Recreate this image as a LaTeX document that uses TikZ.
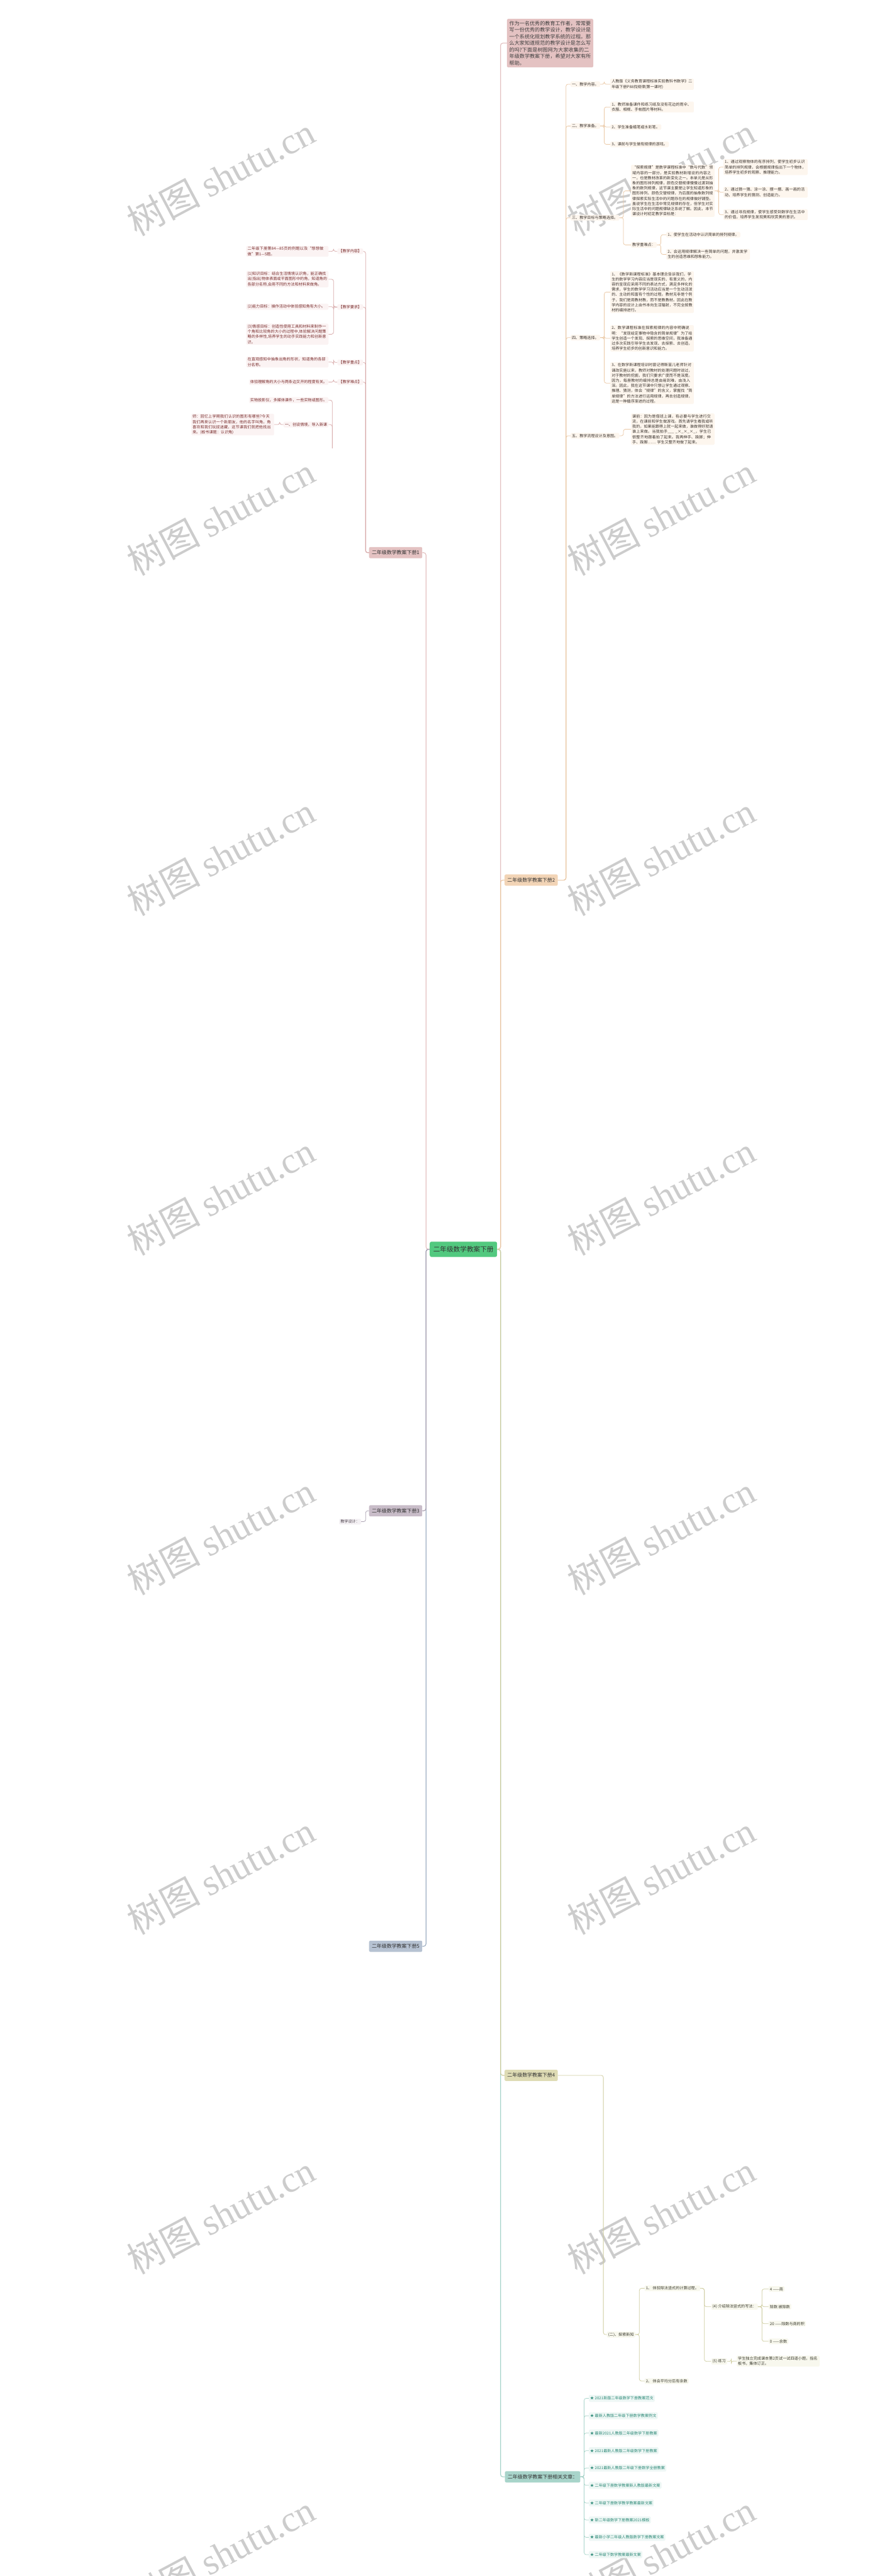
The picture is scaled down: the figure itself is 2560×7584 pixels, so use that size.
\documentclass[tikz,border=0pt]{standalone}
\usepackage{fontspec}
\setmainfont{Noto Sans CJK SC}
\newfontfamily\wmserif{Liberation Serif}
\XeTeXlinebreaklocale "zh"
\XeTeXlinebreakskip = 0pt plus 1pt
\definecolor{rootg}{HTML}{52C97F}
\definecolor{bA}{HTML}{E4C2C2}\definecolor{lA}{HTML}{D8AAAA}\definecolor{fA}{HTML}{FBF3F3}\definecolor{tA}{HTML}{7A2E2E}
\definecolor{bB}{HTML}{F2D4B6}\definecolor{lB}{HTML}{EBC9A6}\definecolor{fB}{HTML}{FDF6EE}\definecolor{tB}{HTML}{3C3530}
\definecolor{bC}{HTML}{C8BCC8}\definecolor{lC}{HTML}{ABA2B2}\definecolor{fC}{HTML}{F4F1F4}\definecolor{tC}{HTML}{4A404A}
\definecolor{bD}{HTML}{DEDBB4}\definecolor{lD}{HTML}{CFCDA0}\definecolor{fD}{HTML}{F8F8EE}\definecolor{tD}{HTML}{3C3C30}
\definecolor{bE}{HTML}{B6C2D2}\definecolor{lE}{HTML}{A0B0C4}
\definecolor{bF}{HTML}{A8D4CA}\definecolor{lF}{HTML}{A8D4CA}\definecolor{fF}{HTML}{EEF7F5}\definecolor{tF}{HTML}{2E8A78}
\tikzset{
  root/.style={fill=rootg, rounded corners=5pt, minimum width=198pt, minimum height=45pt, font=\fontsize{19.7}{24}\selectfont, text=black!80},
  brn/.style={rounded corners=4pt, inner xsep=8pt, minimum height=33pt, font=\fontsize{14.7}{18}\selectfont, text=black!80},
  lf/.style={rounded corners=3pt, inner xsep=4pt, inner ysep=3pt, align=left, font=\fontsize{11.3}{15.2}\selectfont},
  la/.style={lf, fill=fA, text=tA},
  lb/.style={lf, fill=fB, text=tB},
  lc/.style={lf, fill=fC, text=tC},
  ld/.style={lf, fill=fD, text=tD},
  lfx/.style={lf, fill=fF, text=tF},
  tw/.style={text width=#1pt},
  cn/.style={draw=#1, line width=1.4pt, rounded corners=6pt},
  tk/.style={draw=#1, line width=2.2pt, rounded corners=7pt},
  wm/.style={text=black!20, rotate=28, font=\fontsize{108}{110}\selectfont},
}
\begin{document}
\begin{tikzpicture}[x=1pt,y=-1pt]
\useasboundingbox (0,0) rectangle (2560,7584);
\fill[white] (0,0) rectangle (2560,7584);
% watermarks
\foreach \wy in {520,1520,2520,3520,4520,5520,6520,7520}{
  \node[wm] at (650,\wy) {树图 {\wmserif shutu.cn}};
  \node[wm] at (1946,\wy) {树图 {\wmserif shutu.cn}};
}

% root and main branches
\node[root] (root) at (1364,3678) {二年级数学教案下册};
\node[lf, anchor=west, fill=bA, text=black!75, tw=240, inner xsep=7pt, inner ysep=6pt, font=\fontsize{15}{19.5}\selectfont] (intro) at (1492,127) {作为一名优秀的教育工作者，常常要写一份优秀的教学设计，教学设计是一个系统化规划教学系统的过程。那么大家知道规范的教学设计是怎么写的吗?下面是树图网为大家收集的二年级数学教案下册，希望对大家有所帮助。};
\node[brn, fill=bA, anchor=east] (b1) at (1243,1627) {二年级数学教案下册1};
\node[brn, fill=bB, anchor=west] (b2) at (1485,2591) {二年级数学教案下册2};
\node[brn, fill=bC, anchor=east] (b3) at (1243,4448) {二年级数学教案下册3};
\node[brn, fill=bD, anchor=west] (b4) at (1485,6110) {二年级数学教案下册4};
\node[brn, fill=bE, anchor=east] (b5) at (1243,5730) {二年级数学教案下册5};
\node[brn, fill=bF, anchor=west] (b6) at (1486,7292) {二年级数学教案下册相关文章：};

\draw[tk=bA] (root.west) -- ++(-11,0) |- (b1.east);
\draw[tk=lE] (root.west) -- ++(-11,0) |- (b5.east);
\draw[tk=lC] (root.west) -- ++(-11,0) |- (b3.east);
\draw[tk=bA] (root.east) -- ++(10,0) |- (intro.west);
\draw[tk=lB] (root.east) -- ++(10,0) |- (b2.west);
\draw[tk=lF] (root.east) -- ++(10,0) |- (b6.west);
\draw[tk=lD] (root.east) -- ++(10,0) |- (b4.west);

% ---------------- branch 1 (left)
\node[la, anchor=east] (a1) at (1069,740) {【教学内容】};
\node[la, anchor=east] (a2) at (1069,904) {【教学要求】};
\node[la, anchor=east] (a3) at (1069,1067) {【教学重点】};
\node[la, anchor=east] (a4) at (1069,1125) {【教学难点】};
\node[la, anchor=east, tw=234] (a11) at (967,740) {二年级下册第84—85页的例题以及“想想做做”第1—5题。};
\node[la, anchor=east, tw=234] (a21) at (967,822) {(1)知识目标：结合生活情境认识角，能正确找出(指出)物体表面或平面图形中的角，知道角的各部分名称,会用不同的方法和材料来做角。};
\node[la, anchor=east, tw=234] (a22) at (967,903) {(2)能力目标：操作活动中体验感知角有大小。};
\node[la, anchor=east, tw=234] (a23) at (967,984) {(3)情感目标：创造性使用工具和材料来制作一个角和比较角的大小的过程中,体验解决问题策略的多样性,培养学生的动手实践能力和创新意识。};
\node[la, anchor=east, tw=234] (a31) at (967,1066) {在直观感知中抽象出角的形状，知道角的各部分名称。};
\node[la, anchor=east] (a41) at (967,1125) {体验理解角的大小与两条边叉开的程度有关。};
\foreach \c in {a1,a2,a3,a4} \draw[cn=lA] (b1.west) -- ++(-10,0) |- (\c.east);
\draw[cn=lA] (a1.west) -- ++(-11,0) |- (a11.east);
\foreach \c in {a21,a22,a23} \draw[cn=lA] (a2.west) -- ++(-11,0) |- (\c.east);
\draw[cn=lA] (a3.west) -- ++(-11,0) |- (a31.east);
\draw[cn=lA] (a4.west) -- ++(-11,0) |- (a41.east);
\node[la, anchor=east] (a51) at (967,1178) {实物投影仪，多媒体课件，一些实物或图形。};
\node[la, anchor=east] (a52) at (967,1250) {一、创设情境，导入新课};
\node[la, anchor=east, tw=236] (a521) at (807,1250) {师：回忆上学期我们认识的图形有哪些?今天我们再来认识一个新朋友，他的名字叫角，角喜欢和我们玩捉迷藏，这节课我们就把他找出来。(板书课题：认识角)};
\coordinate (a5j) at (978,1320);
\foreach \c in {a51,a52} \draw[cn=lA] (a5j) |- (\c.east);
\draw[cn=lA] (a52.west) -- ++(-11,0) |- (a521.east);

% ---------------- branch 2 (right)
\node[lb, anchor=west] (e1) at (1679,248) {一、教学内容。};
\node[lb, anchor=west] (e2) at (1679,371) {二、教学准备。};
\node[lb, anchor=west] (e3) at (1679,641) {三、教学目标与策略选择。};
\node[lb, anchor=west] (e4) at (1679,994) {四、策略选择。};
\node[lb, anchor=west] (e5) at (1679,1283) {五、教学流程设计及意图。};
\foreach \c in {e1,e2,e3,e4,e5} \draw[cn=lB] (b2.east) -- ++(24,0) |- (\c.west);
\node[lb, anchor=west, tw=238] (e11) at (1796,248) {人教版《义务教育课程标准实验教科书数学》二年级下册P88找规律(第一课时)};
\node[lb, anchor=west, tw=238] (e21) at (1796,315) {1、教师准备课件和练习纸及没有花边的雨伞、衣服、相框、手帕图片等材料。};
\node[lb, anchor=west] (e22) at (1796,374) {2、学生准备蜡笔或水彩笔。};
\node[lb, anchor=west] (e23) at (1796,425) {3、课前与学生做有规律的游戏。};
\draw[cn=lB] (e1.east) -- ++(12,0) |- (e11.west);
\foreach \c in {e21,e22,e23} \draw[cn=lB] (e2.east) -- ++(12,0) |- (\c.west);
\node[lb, anchor=west, tw=238] (e31) at (1857,562) {“探索规律”是数学课程标准中“数与代数”领域内容的一部分，是实验教材新增设的内容之一，也是教材改革的新变化之一。本单元是从形象的图形排列规律，颜色交替规律慢慢过渡到抽象的数列规律，这节课主要是让学生知道形象的图形排列、颜色交替规律，为后面的抽象数列规律探索实际生活中的问题存在的规律做好铺垫。虽说学生在生活中常见规律的存在，但学生对实际生活中的问题规律缺乏系统了解。因此，本节课设计时初定教学目标是：};
\node[lb, anchor=west] (e32) at (1857,721) {教学重难点：};
\foreach \c in {e31,e32} \draw[cn=lB] (e3.east) -- ++(12,0) |- (\c.west);
\node[lb, anchor=west, tw=240] (e311) at (2129,492) {1、通过观察物体的有序排列，使学生初步认识简单的排列规律，会根据规律指出下一个物体，培养学生初步的观察、推理能力。};
\node[lb, anchor=west, tw=240] (e312) at (2129,566) {2、通过猜一猜、涂一涂、摆一摆、画一画的活动，培养学生的猜测、创造能力。};
\node[lb, anchor=west, tw=240] (e313) at (2129,632) {3、通过寻找规律，使学生感受到数学在生活中的价值，培养学生发现美和欣赏美的意识。};
\foreach \c in {e311,e312,e313} \draw[cn=lB] (e31.east) -- ++(12,0) |- (\c.west);
\node[lb, anchor=west] (e321) at (1961,691) {1、使学生在活动中认识简单的排列规律。};
\node[lb, anchor=west, tw=238] (e322) at (1961,749) {2、会运用规律解决一些简单的问题，并激发学生的创造思维和想象能力。};
\foreach \c in {e321,e322} \draw[cn=lB] (e32.east) -- ++(12,0) |- (\c.west);
\node[lb, anchor=west, tw=238] (e41) at (1796,860) {1、《数学新课程标准》基本理念告诉我们，学生的数学学习内容应当是现实的、有意义的，内容的呈现应采用不同的表达方式，满足多样化的需求，学生的数学学习活动应当是一个生动活泼的、主动的和富有个性的过程。教材无非是个例子，我们是用教材教，而不是教教材。因此在教学内容的设计上由书本向生活辐射，不完全按教材的编排进行。};
\node[lb, anchor=west, tw=238] (e42) at (1796,996) {2、数学课程标准在探索规律的内容中明确说明：“发现给定事物中隐含的简单规律”为了给学生创造一个发现、探索的思维空间，我准备通过多次实践引导学生去发现、去探索、去创造，培养学生初步的创新意识和能力。};
\node[lb, anchor=west, tw=238] (e43) at (1796,1128) {3、在数学新课程培训时曾记得斯苗儿老师针对课改实施以来，教师对教材的处理问题时说过，对于教材的挖掘，我们只要求广度而不是深度。因为，每册教材的编排总是由易到难，由浅入深。因此，我在这节课中只想让学生通过观察、推理、猜测，体会“规律”的含义，掌握找“简单规律”的方法进行运用规律，再去创造规律，这是一种循序渐进的过程。};
\foreach \c in {e41,e42,e43} \draw[cn=lB] (e4.east) -- ++(12,0) |- (\c.west);
\node[lb, anchor=north west, tw=238] (e51) at (1857,1217) {课前：因为是借班上课，有必要与学生进行交流，在课前和学生做游戏。首先请学生看我或听我的，如果能跟得上就一起来做，谁做得好就请谁上来做。当我拍手\_\_\_ \_×\_×\_×\_，学生已很整齐地跟着拍了起来。我再伸手、跺脚；伸手、跺脚…… 学生又整齐地做了起来。};
\draw[cn=lB] (e5.east) -- ++(12,0) |- (e51.west);

% ---------------- branch 3 (left, partial)
\node[lc, anchor=east] (c1) at (1063,4480) {教学设计：};
\draw[cn=lC] (b3.west) -- ++(-10,0) |- (c1.east);

% ---------------- branch 4 (right, partial)
\node[ld, anchor=west] (d2) at (1786,6873) {(二)、探索新知};
\node[ld, anchor=west] (d21) at (1897,6737) {1、 体验除法竖式的计算过程。};
\node[ld, anchor=west] (d22) at (1897,7010) {2、 体会平均分后有余数};
\node[ld, anchor=west] (d214) at (2093,6791) {(4) 介绍除法竖式的写法：};
\node[ld, anchor=west] (d215) at (2093,6952) {(5) 练习};
\node[ld, anchor=west] (d2141) at (2262,6739) {4 ——商};
\node[ld, anchor=west] (d2142) at (2262,6791) {除数 被除数};
\node[ld, anchor=west] (d2143) at (2262,6841) {20 ——除数与商的积};
\node[ld, anchor=west] (d2144) at (2262,6893) {0 ——余数};
\node[ld, anchor=west, tw=236] (d2151) at (2168,6951) {学生独立完成课本第2页试一试四道小题，指名板书，集体订正。};
\draw[cn=lD] (b4.east) -- ++(134,0) |- (d2.west);
\foreach \c in {d21,d22} \draw[cn=lD] (d2.east) -- ++(12,0) |- (\c.west);
\foreach \c in {d214,d215} \draw[cn=lD] (d21.east) -- ++(12,0) |- (\c.west);
\foreach \c in {d2141,d2142,d2143,d2144} \draw[cn=lD] (d214.east) -- ++(12,0) |- (\c.west);
\draw[cn=lD] (d215.east) -- ++(12,0) |- (d2151.west);

% ---------------- related articles
\foreach \n/\yy/\t in {
  f1/7061/2021新版二年级数学下册教案范文,
  f2/7112/最新人教版二年级下册数学教案例文,
  f3/7163/最新2021人教版二年级数学下册教案,
  f4/7215/2021最新人教版二年级数学下册教案,
  f5/7266/2021最新人教版二年级下册数学全册教案,
  f6/7317/二年级下册数学教案新人教版最新文案,
  f7/7369/二年级下册数学教学教案最新文案,
  f8/7419/新二年级数学下册教案2021模板,
  f9/7470/最新小学二年级人教版数学下册教案文案,
  f10/7521/二年级下数学教案最新文案}{
  \node[lfx, anchor=west, inner ysep=5pt] (\n) at (1733,\yy) {★ \t};
  \draw[cn=lF] (b6.east) -- ++(11,0) |- (\n.west);
}
\end{tikzpicture}
\end{document}
